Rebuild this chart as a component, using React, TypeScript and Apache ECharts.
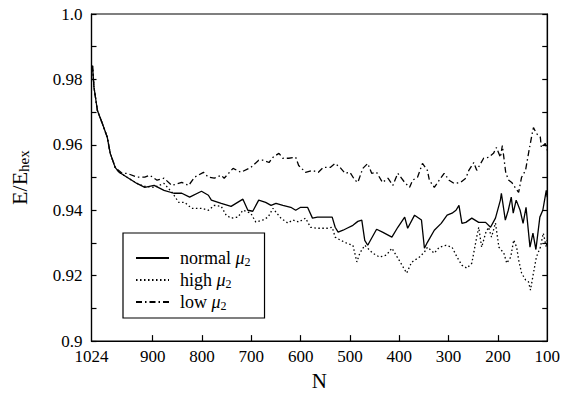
import React, { useEffect, useRef } from "react";
import * as echarts from "echarts";

const FONT = "'Liberation Serif', 'Times New Roman', serif";

const xTickLabels = [1024, 900, 800, 700, 600, 500, 400, 300, 200, 100];
const xTicks = [900, 800, 700, 600, 500, 400, 300, 200];

const normal: number[][] = [
  [1022, 0.9842], [1019, 0.9776], [1012, 0.9705], [1002, 0.9665], [992, 0.9623], [986, 0.9574],
  [976, 0.9531], [968, 0.9516], [952, 0.9501], [932, 0.9482], [916, 0.947], [897, 0.9476],
  [877, 0.9461], [857, 0.9452], [841, 0.9452], [825, 0.944], [801, 0.9458], [787, 0.9446],
  [781, 0.9431], [761, 0.9421], [741, 0.9412], [717, 0.9434], [707, 0.94], [697, 0.9397],
  [685, 0.9431], [671, 0.9424], [660, 0.9415], [650, 0.9421], [636, 0.9415], [620, 0.9409],
  [610, 0.94], [600, 0.9409], [586, 0.9409], [576, 0.9376], [566, 0.9379], [556, 0.9379],
  [536, 0.9379], [530, 0.9348], [524, 0.9333], [514, 0.9339], [506, 0.9345], [494, 0.9354],
  [484, 0.9366], [476, 0.937], [470, 0.9308], [464, 0.9293], [446, 0.9342], [434, 0.9333],
  [415, 0.9318], [403, 0.9348], [389, 0.9379], [383, 0.9345], [369, 0.9385], [355, 0.937],
  [349, 0.9284], [343, 0.9302], [329, 0.9339], [315, 0.936], [303, 0.9385], [293, 0.9391],
  [285, 0.94], [279, 0.9415], [273, 0.936], [265, 0.9363], [253, 0.9376], [239, 0.9363],
  [225, 0.9363], [215, 0.9348], [205, 0.9376], [195, 0.9431], [193, 0.9452], [185, 0.937],
  [179, 0.94], [173, 0.944], [169, 0.9391], [163, 0.9431], [155, 0.94], [149, 0.936],
  [143, 0.9409], [135, 0.9287], [129, 0.933], [123, 0.928], [115, 0.9379], [109, 0.94],
  [102, 0.9461], [100, 0.944],
];

const high: number[][] = [
  [1022, 0.9842], [1019, 0.9776], [1012, 0.9705], [1002, 0.9665], [992, 0.9623], [986, 0.9574],
  [976, 0.9531], [968, 0.9516], [952, 0.9501], [932, 0.9482], [916, 0.9473], [897, 0.947],
  [877, 0.9482], [861, 0.9455], [847, 0.9424], [835, 0.9424], [821, 0.9406], [801, 0.9406],
  [787, 0.94], [775, 0.9415], [761, 0.9412], [751, 0.9385], [741, 0.9376], [727, 0.9379],
  [717, 0.94], [701, 0.9391], [691, 0.9364], [677, 0.937], [666, 0.9379], [656, 0.9406],
  [650, 0.9394], [640, 0.9376], [626, 0.9361], [616, 0.937], [604, 0.9364], [590, 0.9376],
  [580, 0.9348], [566, 0.9345], [546, 0.9345], [536, 0.9348], [530, 0.9318], [520, 0.9309],
  [506, 0.9299], [494, 0.9293], [486, 0.9242], [480, 0.9269], [470, 0.9293], [454, 0.9269],
  [440, 0.9257], [426, 0.9263], [415, 0.9284], [403, 0.9254], [385, 0.9208], [375, 0.9241],
  [359, 0.9257], [349, 0.9272], [343, 0.9287], [329, 0.9269], [319, 0.9287], [305, 0.9293],
  [293, 0.9287], [283, 0.9257], [273, 0.9232], [263, 0.9223], [253, 0.9238], [243, 0.9318],
  [239, 0.9348], [233, 0.9287], [225, 0.933], [219, 0.9348], [213, 0.9318], [205, 0.9361],
  [198, 0.9287], [188, 0.9269], [182, 0.9238], [174, 0.9257], [168, 0.9309], [162, 0.9287],
  [158, 0.9248], [152, 0.9208], [144, 0.9187], [138, 0.9181], [134, 0.9156], [128, 0.9208],
  [122, 0.9257], [114, 0.9287], [108, 0.933], [102, 0.9287], [100, 0.9309],
];

const low: number[][] = [
  [1022, 0.9842], [1019, 0.9776], [1012, 0.9705], [1002, 0.9665], [992, 0.9623], [986, 0.9574],
  [976, 0.9531], [962, 0.9513], [952, 0.9513], [932, 0.9501], [916, 0.9501], [906, 0.9507],
  [891, 0.9492], [877, 0.9498], [861, 0.9476], [841, 0.9485], [827, 0.9476], [815, 0.9501],
  [797, 0.9516], [787, 0.9501], [775, 0.9498], [761, 0.9507], [755, 0.9498], [737, 0.9528],
  [721, 0.9516], [701, 0.9531], [685, 0.9553], [677, 0.9553], [664, 0.9546], [656, 0.9562],
  [644, 0.9574], [636, 0.9559], [624, 0.9559], [610, 0.9562], [604, 0.9537], [590, 0.9516],
  [576, 0.9522], [564, 0.9516], [554, 0.9531], [540, 0.9531], [530, 0.9543], [520, 0.9531],
  [510, 0.9513], [500, 0.9516], [490, 0.9492], [484, 0.9485], [474, 0.9528], [464, 0.9543],
  [456, 0.9513], [446, 0.9516], [434, 0.9485], [423, 0.9498], [413, 0.9476], [403, 0.9513],
  [389, 0.9485], [379, 0.947], [373, 0.9492], [363, 0.9501], [353, 0.9543], [343, 0.9522],
  [339, 0.9492], [329, 0.947], [319, 0.9492], [309, 0.9513], [299, 0.9492], [289, 0.9482],
  [276, 0.9485], [265, 0.9498], [259, 0.9522], [249, 0.9546], [243, 0.9522], [229, 0.9559],
  [219, 0.9562], [209, 0.9574], [203, 0.9592], [195, 0.9562], [191, 0.9598], [184, 0.9513],
  [178, 0.9492], [172, 0.9485], [164, 0.9467], [158, 0.9455], [152, 0.9501], [144, 0.9522],
  [138, 0.9574], [132, 0.9623], [128, 0.9653], [122, 0.9635], [114, 0.9623], [112, 0.9592],
  [104, 0.9604], [100, 0.9583],
];

const seriesNames = ["normal", "high", "low"];

export default function App() {
  const ref = useRef<HTMLDivElement>(null);
  useEffect(() => {
    if (!ref.current) return;
    const chart = echarts.init(ref.current, undefined, { renderer: "svg" });
    const fmtY = (v: number) => {
      if (Math.abs(v - 0.9) < 1e-6) return "0.9";
      if (Math.abs(v - 1.0) < 1e-6) return "1.0";
      return v.toFixed(2);
    };
    const axisLine = { show: true, lineStyle: { color: "#000", width: 1.2 } };
    chart.setOption({
      animation: false,
      backgroundColor: "#fff",
      grid: { left: 89, right: 14, top: 14, bottom: 54, show: true, borderColor: "#000", borderWidth: 1.2 },
      xAxis: {
        type: "value",
        min: 100,
        max: 1024,
        inverse: true,
        name: "N",
        nameLocation: "middle",
        nameGap: 26,
        nameTextStyle: { fontFamily: FONT, fontSize: 21, color: "#000" },
        axisLine,
        splitLine: { show: false },
        axisTick: { show: true, inside: true, length: 6, customValues: xTicks, lineStyle: { color: "#000", width: 1.2 } },
        axisLabel: {
          customValues: xTickLabels,
          formatter: (v: number) => String(v),
          fontFamily: FONT,
          fontSize: 17,
          color: "#000",
          margin: 7,
        },
      },
      yAxis: [
        {
          type: "value",
          min: 0.9,
          max: 1.0,
          interval: 0.02,
          name: "E/E{sub|hex}",
          nameLocation: "middle",
          nameRotate: 90,
          nameGap: 60,
          nameTextStyle: {
            fontFamily: FONT,
            fontSize: 22,
            color: "#000",
            rich: { sub: { fontFamily: FONT, fontSize: 15, color: "#000", verticalAlign: "bottom", padding: [10, 0, 0, 0] } },
          },
          axisLine,
          splitLine: { show: false },
          axisTick: { show: true, inside: true, length: 5, lineStyle: { color: "#000", width: 1.2 } },
          minorTick: { show: true, splitNumber: 2, length: 5, lineStyle: { color: "#000", width: 1.2 } },
          axisLabel: { formatter: fmtY, fontFamily: FONT, fontSize: 17, color: "#000", margin: 9 },
        },
        {
          type: "value",
          min: 0.9,
          max: 1.0,
          interval: 0.02,
          position: "right",
          axisLine,
          splitLine: { show: false },
          axisTick: { show: true, inside: true, length: 5, lineStyle: { color: "#000", width: 1.2 } },
          minorTick: { show: true, splitNumber: 2, length: 5, lineStyle: { color: "#000", width: 1.2 } },
          axisLabel: { show: false },
        },
      ],
      legend: {
        orient: "vertical",
        left: 123,
        top: 233,
        data: seriesNames,
        borderColor: "#000",
        borderWidth: 1.2,
        backgroundColor: "#fff",
        padding: [15, 14, 6, 12],
        itemWidth: 33,
        itemHeight: 14,
        itemGap: 2,
        itemStyle: { opacity: 0 },
        formatter: (name: string) => `${name} {mu|μ}{sub|2}`,
        textStyle: {
          fontFamily: FONT,
          fontSize: 18,
          lineHeight: 20,
          color: "#000",
          padding: [0, 0, 0, 6],
          rich: {
            mu: { fontFamily: FONT, fontSize: 18, lineHeight: 20, fontStyle: "italic", color: "#000" },
            sub: { fontFamily: FONT, fontSize: 12, lineHeight: 12, color: "#000", verticalAlign: "bottom", padding: [6, 0, 0, 0] },
          },
        },
      },
      series: [
        {
          name: "normal",
          type: "line",
          data: normal,
          symbol: "none",
          itemStyle: { color: "#000" },
          lineStyle: { color: "#000", width: 1.3, type: "solid" },
          z: 3,
        },
        {
          name: "high",
          type: "line",
          data: high,
          symbol: "none",
          itemStyle: { color: "#000" },
          lineStyle: { color: "#000", width: 1.3, type: [1.5, 2.5] },
          z: 2,
        },
        {
          name: "low",
          type: "line",
          data: low,
          symbol: "none",
          itemStyle: { color: "#000" },
          lineStyle: { color: "#000", width: 1.3, type: [6, 3, 1.5, 3] },
          z: 2,
        },
      ],
    });
    return () => chart.dispose();
  }, []);
  return <div ref={ref} style={{ position: "absolute", left: 0, top: 0, width: 563, height: 396 }} />;
}
